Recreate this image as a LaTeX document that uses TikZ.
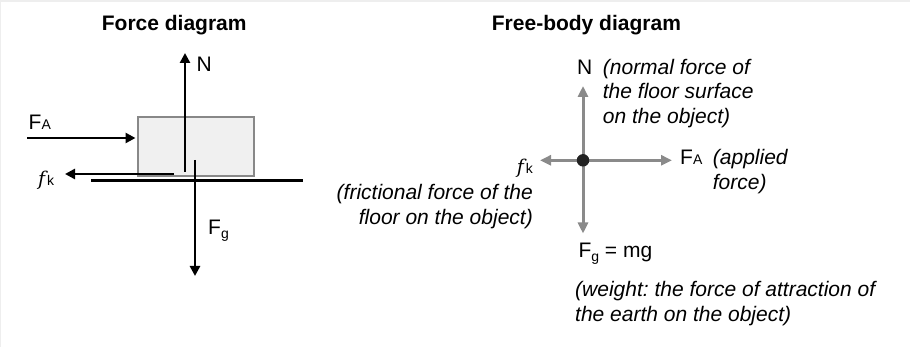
\documentclass[tikz,border=0pt]{standalone}
\usepackage{fontspec}
\setmainfont{Liberation Sans}
\newfontfamily\fserif{DejaVu Serif}
\usetikzlibrary{arrows.meta}
\definecolor{fbgray}{HTML}{8A8A8A}
\definecolor{boxfill}{HTML}{F0F0F0}
\definecolor{boxline}{HTML}{888888}
\definecolor{dotcol}{HTML}{222222}
\definecolor{edgegray}{HTML}{EEEEEE}
\frenchspacing
\newcommand{\subsz}{\fontsize{14}{14}\selectfont}
\newcommand{\myFA}{F{\subsz A}}
\newcommand{\myFg}{F\raisebox{-4pt}{\subsz g}}
\newcommand{\myfk}{{\fontsize{19}{19}\selectfont\fserif\itshape f}\kern2pt{\subsz k}}
\begin{document}
\begin{tikzpicture}[x=1pt,y=-1pt,
  txt/.style={inner sep=0pt, font=\fontsize{21}{24.5}\selectfont},
  ttl/.style={inner sep=0pt, font=\fontsize{21}{24.5}\selectfont\bfseries},
  itx/.style={inner sep=0pt, font=\fontsize{21}{24.5}\selectfont\itshape},
  force/.style={line width=2.5pt, -{Triangle[length=10pt,width=10pt]}},
  fbforce/.style={draw=fbgray, line width=3pt, -{Triangle[length=11pt,width=10pt]}},
  floorline/.style={line width=2.5pt},
  block/.style={draw=boxline, fill=boxfill, line width=2.5pt, minimum width=116pt, minimum height=59pt, inner sep=0pt},
  dot/.style={circle, fill=dotcol, minimum size=12.5pt, inner sep=0pt}
]
\useasboundingbox (0,0) rectangle (910,347);
\fill[edgegray] (0,0) rectangle (910,2);
\fill[edgegray] (0,0) rectangle (1.2,347);

% ---------- Force diagram ----------
\node[ttl, anchor=base west] (t1) at (101.7,30.7) {Force diagram};
\node[block] (box) at (196,146.5) {};

\coordinate (nbase) at (185,172);
\coordinate (ntip) at (185,53);
\coordinate (fastart) at (27,138);
\coordinate (fatip) at (135.5,138);
\coordinate (fkstart) at (174,174);
\coordinate (fktip) at (65,174);
\coordinate (fgstart) at (195,160);
\coordinate (fgtip) at (195,276);
\coordinate (flA) at (91,180.3);
\coordinate (flB) at (303,180.3);

\draw[floorline] (flA) -- (flB);
\draw[force] (nbase) -- (ntip);
\draw[force] (fastart) -- (fatip);
\draw[force] (fkstart) -- (fktip);
\draw[force] (fgstart) -- (fgtip);

\node[txt, anchor=base west] (lN) at (196.5,71.7) {N};
\node[txt, anchor=base west] (lFA) at (28.5,130) {\myFA};
\node[txt, anchor=base west] (lfk) at (38,185.5) {\myfk};
\node[txt, anchor=base west] (lFg) at (208,235) {\myFg};

% ---------- Free-body diagram ----------
\node[ttl, anchor=base west] (t2) at (491.7,30.7) {Free-body diagram};

\coordinate (c) at (583,160.3);
\coordinate (up) at (583,86);
\coordinate (dn) at (583,233.5);
\coordinate (lf) at (540,160.3);
\coordinate (rt) at (672,160.3);
\draw[fbforce] (c) -- (up);
\draw[fbforce] (c) -- (dn);
\draw[fbforce] (c) -- (lf);
\draw[fbforce] (c) -- (rt);
\node[dot] (cdot) at (c) {};

\node[txt, anchor=base west] (rN) at (577,74.5) {N};
\node[itx, anchor=base west] (n1) at (602.7,74.5) {(normal force of};
\node[itx, anchor=base west] (n2) at (602.7,99) {the floor surface};
\node[itx, anchor=base west] (n3) at (602.7,123.5) {on the object)};

\node[txt, anchor=base west] (rFA) at (680,165) {\myFA};
\node[itx, anchor=base west] (a1) at (712.7,165) {(applied};
\node[itx, anchor=base west] (a2) at (712.7,189.5) {force)};

\node[txt, anchor=base east] (rfk) at (533,173.5) {\myfk};
\node[itx, anchor=base east] (f1) at (533,200) {(frictional force of the};
\node[itx, anchor=base east] (f2) at (533,224.5) {floor on the object)};

\node[txt, anchor=base west] (rFg) at (578.3,258) {\myFg{} = mg};
\node[itx, anchor=base west] (w1) at (575,297) {(weight: the force of attraction of};
\node[itx, anchor=base west] (w2) at (575,321.5) {the earth on the object)};
\end{tikzpicture}
\end{document}
